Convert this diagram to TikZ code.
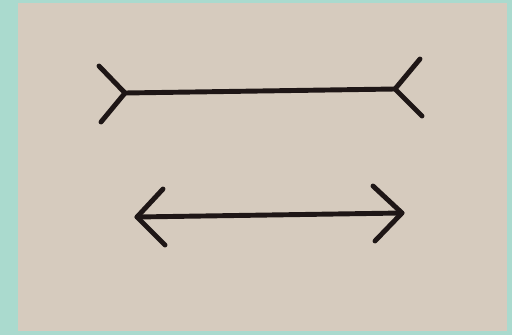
\documentclass[tikz,border=0pt]{standalone}
\usepackage{xcolor}
\definecolor{cEdge}{RGB}{170,218,206}
\definecolor{cPaper}{RGB}{214,203,190}
\definecolor{cInk}{RGB}{30,22,22}
\tikzset{fin/.style={cInk,line width=2.8pt,line cap=round,line join=round}}

\begin{document}
\begin{tikzpicture}[x=0.02cm,y=-0.02cm]
\useasboundingbox (0,0) rectangle (512,335);
\fill[cEdge] (0,0) rectangle (512,335);
\fill[cPaper] (18,3) rectangle (507,331);
% upper figure, fins open outward
\coordinate (uL) at (125,93);
\coordinate (uR) at (395,89);
\coordinate (uLa) at (99,66);
\coordinate (uLb) at (101,122);
\coordinate (uRa) at (420,59);
\coordinate (uRb) at (422,116);
\draw[fin] (uL) -- (uR);
\draw[fin] (uLa) -- (uL) -- (uLb);
\draw[fin] (uRa) -- (uR) -- (uRb);
% lower figure, arrow heads
\coordinate (lL) at (137,217);
\coordinate (lR) at (402,213);
\coordinate (lLa) at (163,189);
\coordinate (lLb) at (165,245);
\coordinate (lRa) at (373,186);
\coordinate (lRb) at (375,241);
\draw[fin] (lL) -- (lR);
\draw[fin] (lLa) -- (lL) -- (lLb);
\draw[fin] (lRa) -- (lR) -- (lRb);
\end{tikzpicture}
\end{document}
